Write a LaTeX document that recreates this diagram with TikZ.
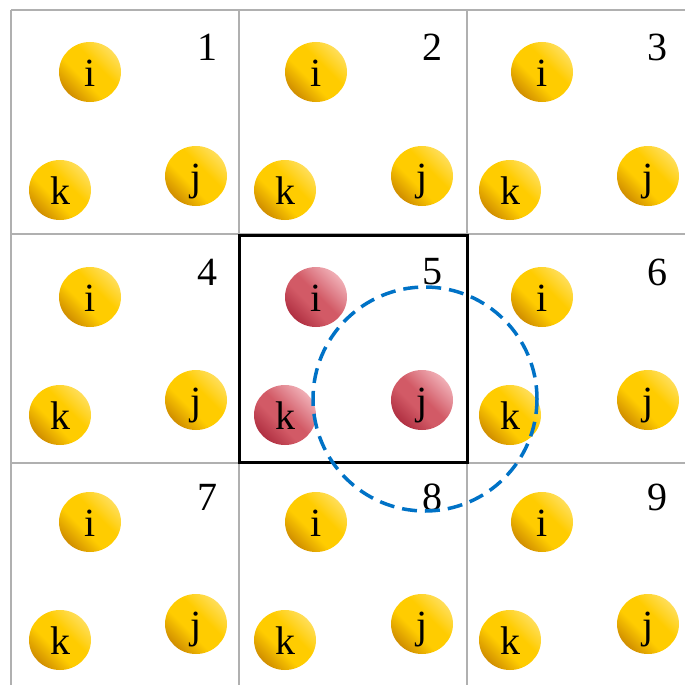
\documentclass[tikz,border=0pt]{standalone}
\usepackage{fontspec}
\setmainfont{Liberation Serif}
\usepackage{tikz}
\usetikzlibrary{shapes.geometric}
\definecolor{BallGold}{RGB}{255,204,0}
\definecolor{BallGoldDark}{RGB}{208,142,0}
\definecolor{BallGoldLight}{RGB}{255,222,90}
\definecolor{BallRed}{RGB}{210,90,102}
\definecolor{BallRedDark}{RGB}{176,48,66}
\definecolor{BallRedLight}{RGB}{240,175,182}
\definecolor{GridGray}{RGB}{176,176,176}
\definecolor{CutoffBlue}{RGB}{0,114,198}
\pgfdeclareverticalshading{goldshade}{100bp}{color(0bp)=(BallGoldDark); color(25bp)=(BallGoldDark); color(42bp)=(BallGold); color(58bp)=(BallGold); color(75bp)=(BallGoldLight); color(100bp)=(BallGoldLight)}
\pgfdeclareverticalshading{redshade}{100bp}{color(0bp)=(BallRedDark); color(25bp)=(BallRedDark); color(42bp)=(BallRed); color(52bp)=(BallRed); color(75bp)=(BallRedLight); color(100bp)=(BallRedLight)}

\begin{document}
\begin{tikzpicture}[
    x=1pt, y=-1pt,
    font=\fontsize{40}{40}\selectfont,
    ball/.style={ellipse, minimum width=62pt, minimum height=60pt, inner sep=0pt, text height=28pt, text depth=0pt},
    yball/.style={ball, shading=goldshade, shading angle=-45},
    rball/.style={ball, shading=redshade, shading angle=-45},
    cellnum/.style={inner sep=0pt},
    gridline/.style={draw=GridGray, line width=2.8pt},
    cellbox/.style={draw=black, line width=3pt},
    cutoff/.style={draw=CutoffBlue, line width=3.5pt, dash pattern=on 15pt off 8pt}
]
\useasboundingbox (0,0) rectangle (685,685);

% grid of cells
\foreach \x in {11,239,467} \draw[gridline] (\x,10) -- (\x,685);
\foreach \y in {10,234,463} \draw[gridline] (11,\y) -- (685,\y);

% particles of each cell
\foreach \r in {0,1,2} {
  \foreach \c in {0,1,2} {
    \pgfmathtruncatemacro{\n}{3*\r+\c+1}
    \ifnum\n=5 \tikzset{cellball/.style={rball}}\else\tikzset{cellball/.style={yball}}\fi
    \node[cellball] (i\n) at (90+226*\c, 72+225*\r) {i};
    \node[cellball] (k\n) at (60+225*\c, 190+225*\r) {k};
    \node[cellball] (j\n) at (196+226*\c, 176+224*\r) {j};
    \node[cellnum] (n\n) at (207+225*\c, 47+225*\r) {\n};
  }
}

\draw[cellbox] (239,235) rectangle (467,462);

% cut-off radius
\draw[cutoff] (425,399) circle[radius=112];

\end{tikzpicture}
\end{document}
